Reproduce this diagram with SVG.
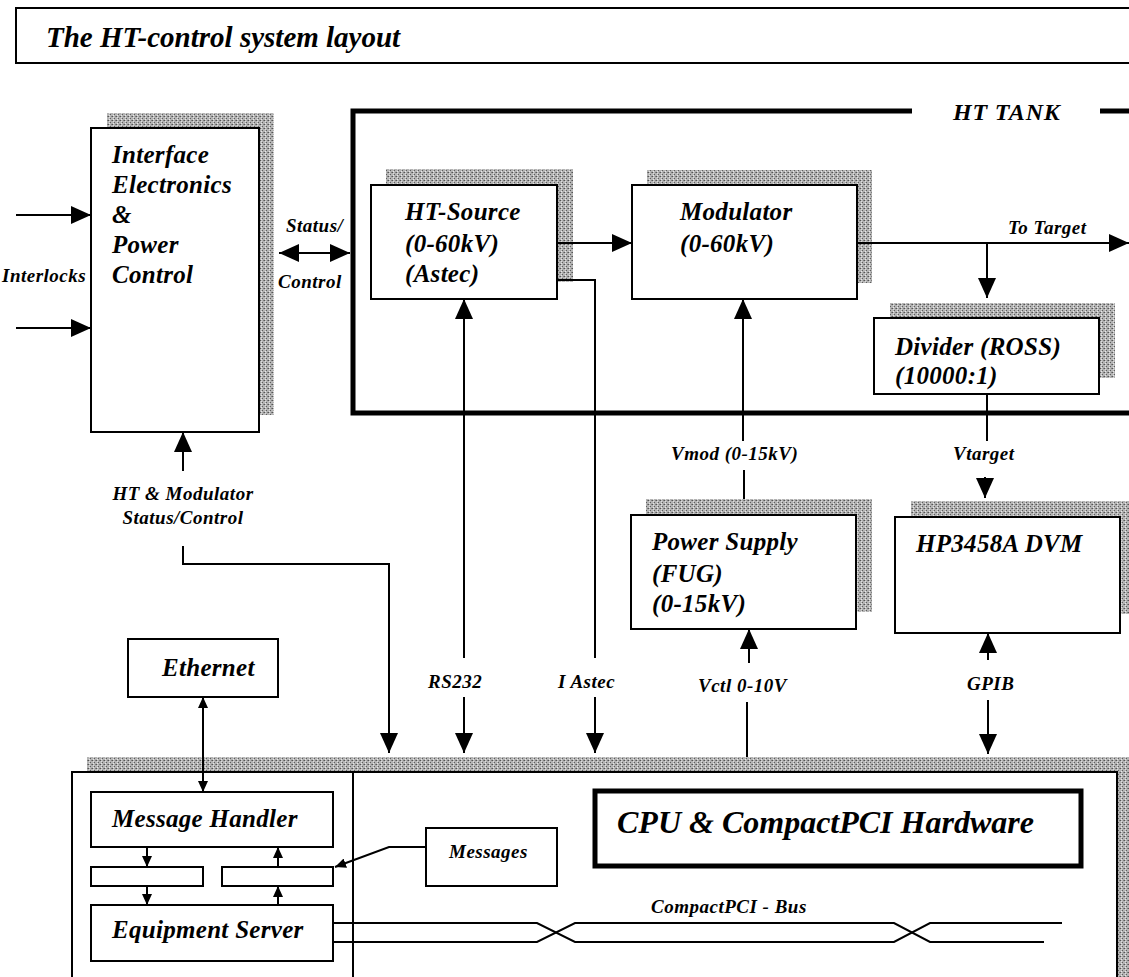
<svg xmlns="http://www.w3.org/2000/svg" width="1129" height="977" viewBox="0 0 1129 977">
<defs>
<pattern id="stip" width="4" height="4" patternUnits="userSpaceOnUse">
<rect width="4" height="4" fill="#b4b4b4"/>
<rect x="0" y="0" width="1" height="1" fill="#555"/>
<rect x="2" y="2" width="1" height="1" fill="#5e5e5e"/>
<rect x="3" y="0" width="1" height="1" fill="#808080"/>
<rect x="1" y="3" width="1" height="1" fill="#e8e8e8"/>
<rect x="1" y="1" width="1" height="1" fill="#dddddd"/>
</pattern>
<marker id="ah" markerUnits="userSpaceOnUse" markerWidth="20" markerHeight="18" refX="20" refY="9" orient="auto-start-reverse" viewBox="0 0 20 18">
<path d="M0,0 L20,9 L0,18 z" fill="#000"/>
</marker>
<marker id="as" markerUnits="userSpaceOnUse" markerWidth="11" markerHeight="10" refX="11" refY="5" orient="auto-start-reverse" viewBox="0 0 11 10">
<path d="M0,0 L11,5 L0,10 z" fill="#000"/>
</marker>
</defs>
<style>
.box{fill:#fff;stroke:#000;stroke-width:2}
.sh{fill:url(#stip)}
.t{font-family:"Liberation Serif","Times New Roman",serif;font-style:italic;font-weight:bold;fill:#000}
.big{font-size:25px;letter-spacing:0.3px}
.sm{font-size:19px;letter-spacing:0.5px}
.ln{fill:none;stroke:#000;stroke-width:2}
.ar{marker-end:url(#ah)}
.ars{marker-end:url(#as)}
</style>
<rect width="1129" height="977" fill="#fff"/>

<g id="title">
<rect x="16" y="8" width="1130" height="55" fill="none" stroke="#000" stroke-width="2"/>
<text class="t" x="46" y="47" font-size="29">The HT-control system layout</text>
</g>

<g id="ht-tank">
<path d="M912,111 H353 V413 H1129 M1100,111 H1129" fill="none" stroke="#000" stroke-width="5"/>
<text class="t" x="953" y="120" font-size="24" letter-spacing="0.8">HT TANK</text>
</g>

<g id="interface">
<rect class="sh" x="107" y="113" width="167" height="302"/>
<rect class="box" x="91" y="128" width="168" height="304"/>
<text class="t big" x="112" y="163">Interface</text>
<text class="t big" x="112" y="193">Electronics</text>
<text class="t big" x="112" y="223">&amp;</text>
<text class="t big" x="112" y="253">Power</text>
<text class="t big" x="112" y="283">Control</text>
</g>

<g id="ht-source">
<rect class="sh" x="386" y="169" width="187" height="113"/>
<rect class="box" x="371" y="185" width="186" height="114"/>
<text class="t big" x="405" y="220">HT-Source</text>
<text class="t big" x="405" y="252">(0-60kV)</text>
<text class="t big" x="405" y="282">(Astec)</text>
</g>

<g id="modulator">
<rect class="sh" x="647" y="170" width="225" height="113"/>
<rect class="box" x="632" y="185" width="225" height="114"/>
<text class="t big" x="680" y="220">Modulator</text>
<text class="t big" x="680" y="252">(0-60kV)</text>
</g>

<g id="divider">
<rect class="sh" x="890" y="303" width="225" height="75"/>
<rect class="box" x="874" y="318" width="225" height="76"/>
<text class="t big" x="895" y="355">Divider (ROSS)</text>
<text class="t big" x="895" y="384">(10000:1)</text>
</g>

<g id="power-supply">
<rect class="sh" x="646" y="499" width="226" height="113"/>
<rect class="box" x="631" y="515" width="225" height="114"/>
<text class="t big" x="652" y="550">Power Supply</text>
<text class="t big" x="652" y="582">(FUG)</text>
<text class="t big" x="652" y="612">(0-15kV)</text>
</g>

<g id="dvm">
<rect class="sh" x="911" y="501" width="225" height="113"/>
<rect class="box" x="895" y="517" width="225" height="116"/>
<text class="t big" x="916" y="552">HP3458A DVM</text>
</g>

<g id="ethernet">
<rect class="box" x="128" y="639" width="150" height="58"/>
<text class="t big" x="162" y="676">Ethernet</text>
</g>

<g id="cpu">
<rect class="sh" x="87" y="757" width="1050" height="230"/>
<rect class="box" x="72" y="772" width="1045" height="215"/>
<line x1="353" y1="772" x2="353" y2="977" stroke="#000" stroke-width="2"/>
</g>

<g id="cpu-hardware">
<rect x="595" y="791" width="486" height="75" fill="#fff" stroke="#000" stroke-width="5"/>
<text class="t" x="617" y="833" font-size="32">CPU &amp; CompactPCI Hardware</text>
</g>

<g id="message-handler">
<rect class="box" x="91" y="792" width="242" height="55"/>
<text class="t big" x="112" y="827">Message Handler</text>
</g>

<g id="queue-left">
<rect class="box" x="91" y="867" width="112" height="19"/>
</g>
<g id="queue-right">
<rect class="box" x="222" y="867" width="111" height="19"/>
</g>

<g id="equipment-server">
<rect class="box" x="91" y="905" width="242" height="56"/>
<text class="t big" x="112" y="938">Equipment Server</text>
</g>

<g id="messages">
<rect class="box" x="426" y="828" width="131" height="58"/>
<text class="t sm" x="449" y="858">Messages</text>
</g>

<g id="labels">
<text class="t sm" x="2" y="282">Interlocks</text>
<text class="t sm" x="286" y="232">Status/</text>
<text class="t sm" x="278" y="288">Control</text>
<text class="t sm" x="1008" y="234">To Target</text>
<text class="t sm" x="671" y="460">Vmod (0-15kV)</text>
<text class="t sm" x="953" y="460">Vtarget</text>
<text class="t sm" x="183" y="500" text-anchor="middle">HT &amp; Modulator</text>
<text class="t sm" x="183" y="524" text-anchor="middle">Status/Control</text>
<text class="t sm" x="428" y="688">RS232</text>
<text class="t sm" x="558" y="688">I Astec</text>
<text class="t sm" x="698" y="692">Vctl 0-10V</text>
<text class="t sm" x="967" y="690">GPIB</text>
<text class="t sm" x="651" y="913">CompactPCI - Bus</text>
</g>

<g id="connectors">
<line class="ln ar" x1="16" y1="215" x2="91" y2="215"/>
<line class="ln ar" x1="16" y1="328" x2="91" y2="328"/>
<line class="ln ar" x1="279" y1="253" x2="350" y2="253" marker-start="url(#ah)"/>
<line class="ln ar" x1="557" y1="243" x2="632" y2="243"/>
<path class="ln" d="M557,280 H595 V658"/>
<line class="ln ar" x1="595" y1="697" x2="595" y2="753"/>
<line class="ln ar" x1="464" y1="658" x2="464" y2="299"/>
<line class="ln ar" x1="464" y1="697" x2="464" y2="753"/>
<line class="ln ar" x1="743" y1="441" x2="743" y2="299"/>
<line class="ln" x1="744" y1="470" x2="744" y2="499"/>
<line class="ln ar" x1="749" y1="663" x2="749" y2="629"/>
<line class="ln" x1="747" y1="702" x2="747" y2="757"/>
<line class="ln ar" x1="857" y1="243" x2="1129" y2="243"/>
<line class="ln ar" x1="987" y1="243" x2="987" y2="298"/>
<line class="ln" x1="987" y1="394" x2="987" y2="441"/>
<line class="ln ar" x1="985" y1="477" x2="985" y2="498"/>
<line class="ln ar" x1="988" y1="660" x2="988" y2="633"/>
<line class="ln ar" x1="988" y1="700" x2="988" y2="754"/>
<line class="ln ar" x1="183" y1="471" x2="183" y2="432"/>
<path class="ln ar" d="M183,546 V564 H389 V753"/>
<line class="ln ars" x1="203" y1="697" x2="203" y2="792" marker-start="url(#as)"/>
<line class="ln ars" x1="147" y1="847" x2="147" y2="867"/>
<line class="ln ars" x1="147" y1="886" x2="147" y2="905"/>
<line class="ln ars" x1="278" y1="867" x2="278" y2="847"/>
<line class="ln ars" x1="278" y1="905" x2="278" y2="886"/>
<path class="ln ars" d="M426,847 H389 L335,867"/>
<path class="ln" d="M333,923 H537 L575,942 H894 L930,923 H1062"/>
<path class="ln" d="M333,942 H537 L575,923 H894 L930,942 H1044"/>
</g>
</svg>
